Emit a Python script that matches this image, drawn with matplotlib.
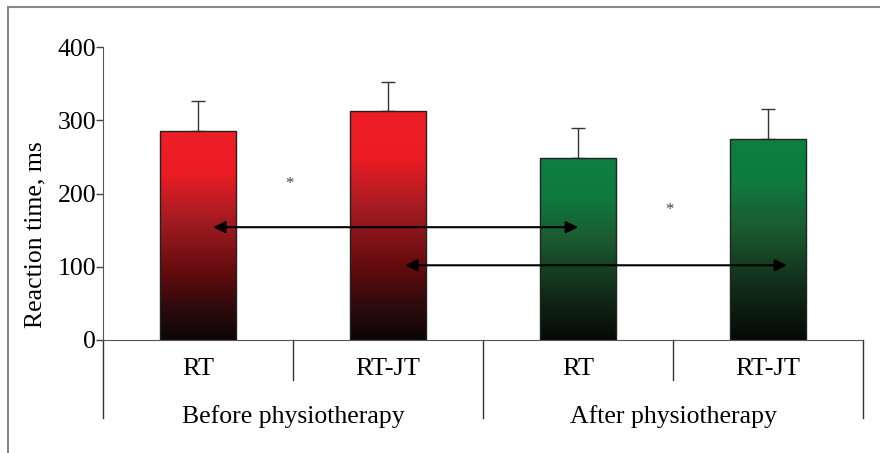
import numpy as np
import matplotlib
matplotlib.use("Agg")
import matplotlib.pyplot as plt
from matplotlib.colors import LinearSegmentedColormap
from matplotlib.lines import Line2D

plt.rcParams['font.family']=['Liberation Serif','DejaVu Serif']

conditions=["RT","RT-JT","RT","RT-JT"]
groups=["Before physiotherapy","After physiotherapy"]
means=[286,312,249,275]
errors=[40,40,40,40]
arrows=[(0.08,2.0,154),(1.09,3.1,102)]
stars=[(0.48,213),(2.48,177)]

red_cmap=LinearSegmentedColormap.from_list("red",[(0,"#0d0506"),(0.15,"#2e0b0d"),(0.3,"#5e0a0c"),(0.58,"#a51c22"),(0.8,"#ed1c24"),(1,"#ed1f26")])
green_cmap=LinearSegmentedColormap.from_list("green",[(0,"#050a06"),(0.25,"#112a18"),(0.55,"#1b5a30"),(0.78,"#0f7a3e"),(1,"#0e7f41")])
cmaps=[red_cmap,red_cmap,green_cmap,green_cmap]

fig=plt.figure(figsize=(8.8,4.53),dpi=100)
ax=fig.add_axes([103/880,113/453,760/880,293/453])
x=np.arange(len(means))
width=0.4
bars=ax.bar(x,means,width=width,color="none",edgecolor="#222222",linewidth=1,zorder=3)
grad=np.linspace(0,1,256).reshape(-1,1)
for b,cm in zip(bars,cmaps):
    im=ax.imshow(grad,cmap=cm,origin="lower",aspect="auto",extent=[b.get_x(),b.get_x()+b.get_width(),0,b.get_height()],zorder=2)
    im.set_clip_path(b)
ax.errorbar(x,means,yerr=[np.zeros(len(errors)),errors],fmt="none",ecolor="#333333",elinewidth=1,capsize=5,capthick=1,zorder=1)

for x0,x1,yv in arrows:
    ax.annotate("",xy=(x1,yv),xytext=(x0,yv),arrowprops=dict(arrowstyle="<|-|>",color="black",lw=1.5,mutation_scale=18,shrinkA=0,shrinkB=0),zorder=5)
for sx,sy in stars:
    ax.text(sx,sy,"*",fontsize=12,color="#444444",ha="center",va="center")

ax.set_xlim(-0.5,3.5)
ax.set_ylim(0,400)
ax.set_yticks([0,100,200,300,400])
ax.tick_params(axis="y",labelsize=18.5,length=5,width=1,color="#444444",pad=0)
ax.set_xticks([])
for s in ["top","right"]:
    ax.spines[s].set_visible(False)
for s in ["left","bottom"]:
    ax.spines[s].set_color("#555555")
ax.set_ylabel("Reaction time, ms",fontsize=18.5)
ax.yaxis.set_label_coords(-0.075,0.358)

# category labels and separators below the axis
to_ax=ax.get_xaxis_transform()
for xi,lab in zip(x,conditions):
    ax.text(xi,-0.1,lab,transform=to_ax,fontsize=19,ha="center",va="center")
for gi,lab in enumerate(groups):
    ax.text(0.5+2*gi,-0.26,lab,transform=to_ax,fontsize=18.5,ha="center",va="center")
for xs in [0.5,2.5]:
    ax.add_line(Line2D([xs,xs],[0,-0.135],transform=to_ax,color="#333333",lw=1,clip_on=False))
for xs in [-0.5,1.5,3.5]:
    ax.add_line(Line2D([xs,xs],[0,-0.265],transform=to_ax,color="#333333",lw=1,clip_on=False))

# outer frame
fig.add_artist(Line2D([8/880,8/880],[0,1-7/453],transform=fig.transFigure,color="#888888",lw=1.5))
fig.add_artist(Line2D([8/880,1],[1-7/453,1-7/453],transform=fig.transFigure,color="#888888",lw=1.5))

fig.savefig("out.png",dpi=100)
